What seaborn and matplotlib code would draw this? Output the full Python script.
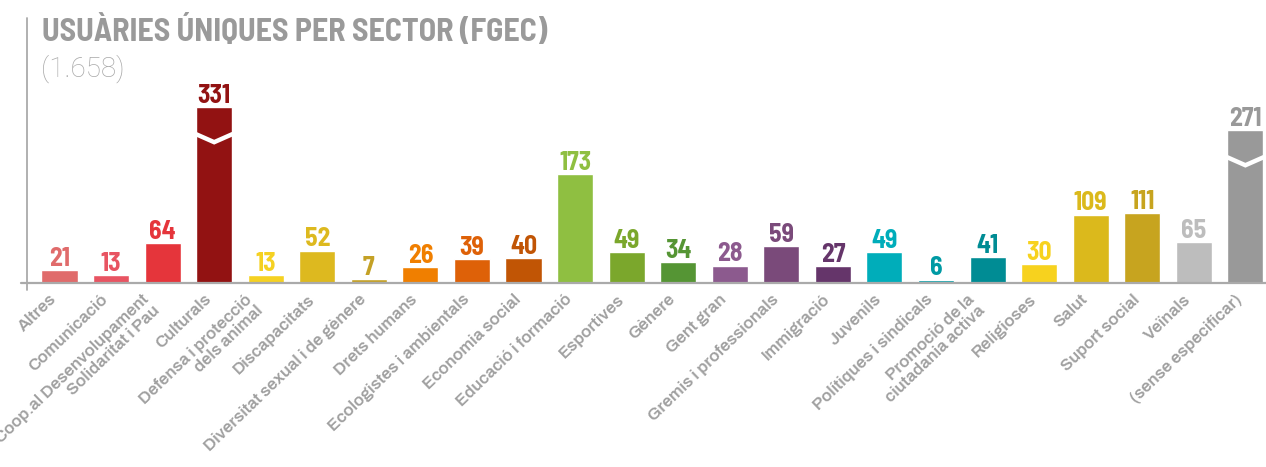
import matplotlib
matplotlib.use("Agg")
import matplotlib.pyplot as plt
import seaborn as sns
import numpy as np

categories = [
    "Altres", "Comunicació", "Coop.al Desenvolupament\nSolidaritat i Pau", "Culturals",
    "Defensa i protecció\ndels animal", "Discapacitats", "Diversitat sexual i de gènere",
    "Drets humans", "Ecologistes i ambientals", "Economia social", "Educació i formació",
    "Esportives", "Gènere", "Gent gran", "Gremis i professionals", "Immigració",
    "Juvenils", "Polítiques i sindicals", "Promoció de la\nciutadania activa", "Religioses",
    "Salut", "Suport social", "Veïnals", "(sense especificar)",
]
values = [21, 13, 64, 331, 13, 52, 7, 26, 39, 40, 173, 49, 34, 28, 59, 27, 49, 6, 41, 30,
          109, 111, 65, 271]
colors = [
    "#E06B6B", "#E85462", "#E5353B", "#921212", "#F5D122", "#DDB91F", "#C4A126",
    "#F07F00", "#DE6108", "#C15505", "#8FBF41", "#7BA72C", "#559534", "#8C5A8E",
    "#7A4A7A", "#65356A", "#00ADBA", "#009AA4", "#008C94", "#F7D21E", "#DBB91C",
    "#C7A41F", "#BDBDBD", "#999999",
]
title = "USUÀRIES ÚNIQUES PER SECTOR (FGEC)"
subtitle = "(1.658)"

# bars above this value are drawn compressed, with a break mark
BREAK_AT = 200
COMPRESS = 0.61
display = [v if v <= BREAK_AT else BREAK_AT + (v - BREAK_AT) * COMPRESS for v in values]

sns.set_style("white")
NUM_FONT = ["Barlow Semi Condensed", "Barlow Condensed", "DejaVu Sans"]
SUB_FONT = ["Roboto", "DejaVu Sans"]
LBL_FONT = ["Archivo", "Roboto", "DejaVu Sans"]

fig = plt.figure(figsize=(12.66, 4.67), dpi=100)
ax = fig.add_axes([27 / 1266, 0.3934, 1 - 27 / 1266, 0.5681])

sns.barplot(x=list(range(len(values))), y=display, hue=list(range(len(values))),
            palette=colors, legend=False, width=0.7, saturation=1, ax=ax)

ax.set_xlim(-0.63, 23.4)
ax.set_ylim(0, 421)
for s in ax.spines.values():
    s.set_visible(False)
ax.set_yticks([])
ax.set_xticks(range(len(categories)))
ax.set_xticklabels(categories, rotation=44, ha="right", va="top",
                   color="#A0A0A0", fontsize=12.2, family=LBL_FONT, linespacing=1.0)
ax.tick_params(axis="x", length=0, pad=6)
ax.set_xlabel("")
ax.set_ylabel("")

ax.axvline(-0.63, ymin=-0.026, ymax=1, color="#AAAAAA", lw=1.3, clip_on=False)
ax.axhline(0, xmin=-0.005, xmax=1, color="#AAAAAA", lw=1.6, clip_on=False)

for i, (v, h, c) in enumerate(zip(values, display, colors)):
    ax.annotate(str(v), (i, h), xytext=(0, 3), textcoords="offset points",
                ha="center", va="baseline", color=c, fontsize=18.5,
                fontweight="bold", family=NUM_FONT)
    if v > BREAK_AT:
        ax.plot([i - 0.36, i, i + 0.36], [h - 43, h - 56, h - 43], color="white",
                lw=3.2, solid_joinstyle="miter", solid_capstyle="butt")

fig.text(42 / 1266, 1 - 41 / 467, title, color="#9A9A9A", fontsize=23,
         fontweight="bold", family=NUM_FONT, va="baseline")
fig.text(41 / 1266, 1 - 77 / 467, subtitle, color="#A8A8A8", fontsize=20,
         fontweight="light", family=SUB_FONT, va="baseline")

fig.savefig("out.png", dpi=100)
